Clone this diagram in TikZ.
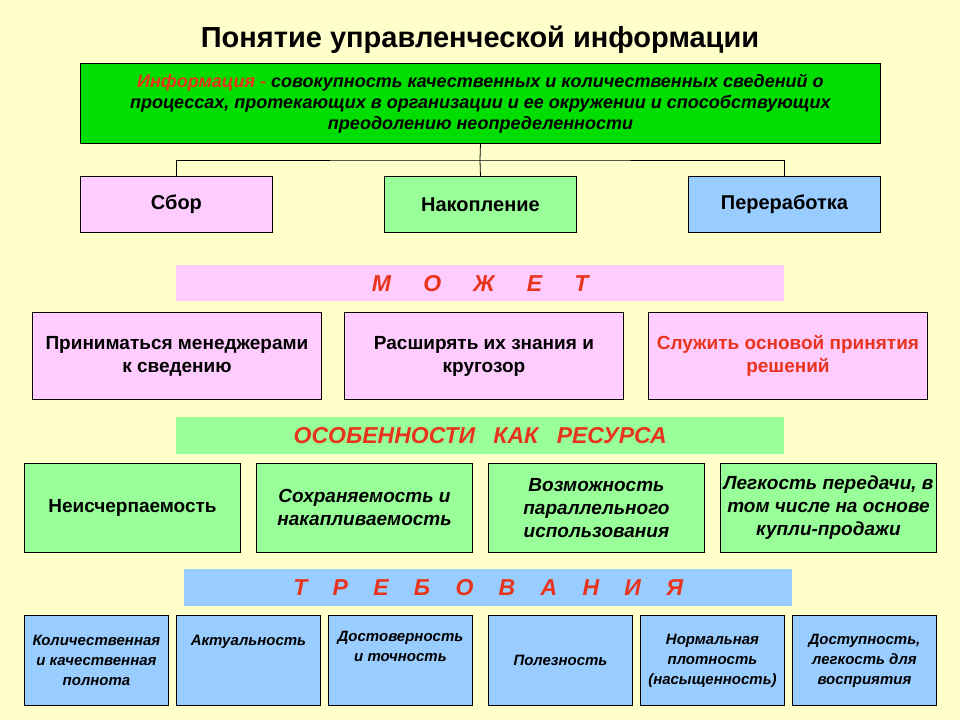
\documentclass[tikz,border=0pt]{standalone}
\usepackage{fontspec}
\setmainfont{Liberation Sans}
\usetikzlibrary{positioning}
\definecolor{bgyellow}{HTML}{FFFFCC}
\definecolor{topgreen}{HTML}{00DD00}
\definecolor{lgreen}{HTML}{99FF99}
\definecolor{lpink}{HTML}{FFCCFF}
\definecolor{lblue}{HTML}{99CCFF}
\definecolor{txtred}{HTML}{E8341C}
\tikzset{
    box/.style={rectangle, draw, line width=0.9pt, anchor=north west, align=center, inner sep=2pt},
    band/.style={rectangle, anchor=north west, font=\fontsize{23}{26}\selectfont\bfseries\itshape, text=txtred},
    line/.style={draw, line width=0.8pt}
}
\newcommand{\bx}[6]{\node [box, fill=#5, minimum width=#3pt, minimum height=#4pt, font=#6] at (#1pt,-#2pt)}
\newcommand{\fa}{\fontsize{18}{21}\selectfont\bfseries\itshape}
\newcommand{\fb}{\fontsize{20}{24}\selectfont\bfseries}
\newcommand{\fc}{\fontsize{19}{23}\selectfont\bfseries}
\newcommand{\fd}{\fontsize{15}{20}\selectfont\bfseries\itshape}
\begin{document}
\begin{tikzpicture}
    \fill [bgyellow] (0,0) rectangle (960pt,-720pt);
    \node [font=\fontsize{29}{32}\selectfont\bfseries] (title) at (480pt,-40pt) {Понятие управленческой информации};

    % definition and its three actions
    \bx{80}{63}{800}{80}{topgreen}{\fa} (info) {{\color{txtred}Информация -} совокупность качественных и количественных сведений о\\процессах, протекающих в организации и ее окружении и способствующих\\преодолению неопределенности};
    \bx{80}{176}{192}{56}{lpink}{\fb} (sbor) {Сбор};
    \bx{384}{176}{192}{56}{lgreen}{\fb} (nakop) {Накопление};
    \bx{688}{176}{192}{56}{lblue}{\fb} (perer) {Переработка};
    \coordinate (fork) at (480pt,-160pt);
    \path [line] (info.south) -- (fork);
    \path [line] (sbor.north) |- (fork) -| (perer.north);
    \path [line] (fork) -- (nakop.north);

    % may
    \node [band, fill=lpink, minimum width=608pt, minimum height=36pt] (mozhet) at (176pt,-265pt) {М\hspace{1.4em}О\hspace{1.4em}Ж\hspace{1.4em}Е\hspace{1.4em}Т};
    \bx{32}{312}{289}{87}{lpink}{\fc} (prin) {Приниматься менеджерами\\к сведению};
    \bx{344}{312}{279}{87}{lpink}{\fc} (rassh) {Расширять их знания и\\кругозор};
    \bx{648}{312}{279}{87}{lpink}{\fc\color{txtred}} (sluzh) {Служить основой принятия\\решений};

    % resource features
    \node [band, fill=lgreen, minimum width=608pt, minimum height=37pt] (osob) at (176pt,-417pt) {ОСОБЕННОСТИ\hspace{0.8em}КАК\hspace{0.8em}РЕСУРСА};
    \bx{24}{463}{216}{89}{lgreen}{\fc} (neisch) {Неисчерпаемость};
    \bx{256}{463}{216}{89}{lgreen}{\fc\itshape} (sohr) {Сохраняемость и\\накапливаемость};
    \bx{488}{463}{216}{89}{lgreen}{\fc\itshape} (vozm) {Возможность\\параллельного\\использования};
    \bx{720}{463}{216}{89}{lgreen}{\fc\itshape} (legk) {Легкость передачи, в\\том числе на основе\\купли-продажи};

    % requirements
    \node [band, fill=lblue, minimum width=608pt, minimum height=37pt] (treb) at (184pt,-569pt) {Т\hspace{1.1em}Р\hspace{1.1em}Е\hspace{1.1em}Б\hspace{1.1em}О\hspace{1.1em}В\hspace{1.1em}А\hspace{1.1em}Н\hspace{1.1em}И\hspace{1.1em}Я};
    \bx{24}{615}{144}{90}{lblue}{\fd} (koll) {Количественная\\и качественная\\полнота};
    \bx{176}{615}{144}{90}{lblue}{\fd} (aktu) {Актуальность\\[1.3em]};
    \bx{328}{615}{144}{90}{lblue}{\fd} (dost) {Достоверность\\и точность\\[0.5em]};
    \bx{488}{615}{144}{90}{lblue}{\fd} (polez) {Полезность};
    \bx{640}{615}{144}{90}{lblue}{\fd} (norm) {Нормальная\\плотность\\(насыщенность)};
    \bx{792}{615}{144}{90}{lblue}{\fd} (dostup) {Доступность,\\легкость для\\восприятия};
\end{tikzpicture}
\end{document}
